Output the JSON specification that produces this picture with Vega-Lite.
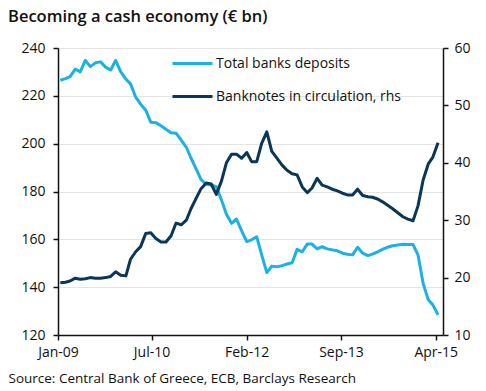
{
  "$schema": "https://vega.github.io/schema/vega-lite/v6.json",
  "width": 385,
  "height": 287,
  "autosize": "none",
  "padding": {"left": 58, "top": 48, "right": 43, "bottom": 56},
  "background": "white",
  "title": {"text": "Becoming a cash economy (€ bn)", "anchor": "start", "frame": "group", "dx": -50, "fontSize": 16.5, "fontWeight": 600, "font": "Open Sans", "color": "#111111", "offset": 16},
  "config": {"view": {"stroke": null}, "font": "Open Sans"},
  "data": {"values": [
    {"date": "2009-01-15", "deposits": 226.5, "banknotes": 19.1},
    {"date": "2009-02-15", "deposits": 227.2, "banknotes": 19.2},
    {"date": "2009-03-15", "deposits": 228.0, "banknotes": 19.4},
    {"date": "2009-04-15", "deposits": 231.2, "banknotes": 19.9},
    {"date": "2009-05-15", "deposits": 230.0, "banknotes": 19.7},
    {"date": "2009-06-15", "deposits": 234.8, "banknotes": 19.8},
    {"date": "2009-07-15", "deposits": 232.2, "banknotes": 20.0},
    {"date": "2009-08-15", "deposits": 233.8, "banknotes": 19.9},
    {"date": "2009-09-15", "deposits": 234.2, "banknotes": 19.9},
    {"date": "2009-10-15", "deposits": 232.0, "banknotes": 20.0},
    {"date": "2009-11-15", "deposits": 230.8, "banknotes": 20.2},
    {"date": "2009-12-15", "deposits": 234.8, "banknotes": 21.0},
    {"date": "2010-01-15", "deposits": 230.0, "banknotes": 20.4},
    {"date": "2010-02-15", "deposits": 227.0, "banknotes": 20.3},
    {"date": "2010-03-15", "deposits": 225.0, "banknotes": 23.2},
    {"date": "2010-04-15", "deposits": 219.5, "banknotes": 24.5},
    {"date": "2010-05-15", "deposits": 216.5, "banknotes": 25.4},
    {"date": "2010-06-15", "deposits": 214.0, "banknotes": 27.7},
    {"date": "2010-07-15", "deposits": 209.0, "banknotes": 27.8},
    {"date": "2010-08-15", "deposits": 208.8, "banknotes": 26.8},
    {"date": "2010-09-15", "deposits": 207.5, "banknotes": 26.2},
    {"date": "2010-10-15", "deposits": 206.0, "banknotes": 26.2},
    {"date": "2010-11-15", "deposits": 204.6, "banknotes": 27.3},
    {"date": "2010-12-15", "deposits": 204.4, "banknotes": 29.5},
    {"date": "2011-01-15", "deposits": 201.5, "banknotes": 29.2},
    {"date": "2011-02-15", "deposits": 198.5, "banknotes": 30.0},
    {"date": "2011-03-15", "deposits": 194.0, "banknotes": 32.0},
    {"date": "2011-04-15", "deposits": 189.5, "banknotes": 33.8},
    {"date": "2011-05-15", "deposits": 185.0, "banknotes": 35.5},
    {"date": "2011-06-15", "deposits": 183.0, "banknotes": 36.5},
    {"date": "2011-07-15", "deposits": 182.7, "banknotes": 36.3},
    {"date": "2011-08-15", "deposits": 182.0, "banknotes": 34.5},
    {"date": "2011-09-15", "deposits": 176.5, "banknotes": 36.8},
    {"date": "2011-10-15", "deposits": 170.5, "banknotes": 40.0},
    {"date": "2011-11-15", "deposits": 166.7, "banknotes": 41.5},
    {"date": "2011-12-15", "deposits": 168.5, "banknotes": 41.5},
    {"date": "2012-01-15", "deposits": 163.5, "banknotes": 40.8},
    {"date": "2012-02-15", "deposits": 159.0, "banknotes": 41.8},
    {"date": "2012-03-15", "deposits": 159.8, "banknotes": 40.2},
    {"date": "2012-04-15", "deposits": 161.1, "banknotes": 40.2},
    {"date": "2012-05-15", "deposits": 153.5, "banknotes": 43.4},
    {"date": "2012-06-15", "deposits": 146.1, "banknotes": 45.4},
    {"date": "2012-07-15", "deposits": 148.8, "banknotes": 42.0},
    {"date": "2012-08-15", "deposits": 148.5, "banknotes": 40.8},
    {"date": "2012-09-15", "deposits": 149.0, "banknotes": 39.6},
    {"date": "2012-10-15", "deposits": 149.7, "banknotes": 38.7},
    {"date": "2012-11-15", "deposits": 150.2, "banknotes": 38.1},
    {"date": "2012-12-15", "deposits": 155.8, "banknotes": 37.9},
    {"date": "2013-01-15", "deposits": 154.8, "banknotes": 35.8},
    {"date": "2013-02-15", "deposits": 158.1, "banknotes": 34.8},
    {"date": "2013-03-15", "deposits": 158.0, "banknotes": 35.6},
    {"date": "2013-04-15", "deposits": 156.0, "banknotes": 37.3},
    {"date": "2013-05-15", "deposits": 156.9, "banknotes": 36.1},
    {"date": "2013-06-15", "deposits": 156.0, "banknotes": 35.8},
    {"date": "2013-07-15", "deposits": 155.6, "banknotes": 35.4},
    {"date": "2013-08-15", "deposits": 155.2, "banknotes": 35.1},
    {"date": "2013-09-15", "deposits": 154.2, "banknotes": 34.7},
    {"date": "2013-10-15", "deposits": 153.8, "banknotes": 34.4},
    {"date": "2013-11-15", "deposits": 153.5, "banknotes": 34.4},
    {"date": "2013-12-15", "deposits": 156.7, "banknotes": 35.4},
    {"date": "2014-01-15", "deposits": 154.2, "banknotes": 34.3},
    {"date": "2014-02-15", "deposits": 153.2, "banknotes": 34.1},
    {"date": "2014-03-15", "deposits": 153.8, "banknotes": 34.0},
    {"date": "2014-04-15", "deposits": 154.8, "banknotes": 33.7},
    {"date": "2014-05-15", "deposits": 155.8, "banknotes": 33.2},
    {"date": "2014-06-15", "deposits": 156.7, "banknotes": 32.6},
    {"date": "2014-07-15", "deposits": 157.3, "banknotes": 32.0},
    {"date": "2014-08-15", "deposits": 157.6, "banknotes": 31.3},
    {"date": "2014-09-15", "deposits": 157.9, "banknotes": 30.6},
    {"date": "2014-10-15", "deposits": 157.8, "banknotes": 30.2},
    {"date": "2014-11-15", "deposits": 157.8, "banknotes": 29.9},
    {"date": "2014-12-15", "deposits": 153.5, "banknotes": 32.5},
    {"date": "2015-01-15", "deposits": 141.6, "banknotes": 37.0},
    {"date": "2015-02-15", "deposits": 134.7, "banknotes": 39.8},
    {"date": "2015-03-15", "deposits": 132.6, "banknotes": 41.0},
    {"date": "2015-04-15", "deposits": 128.4, "banknotes": 43.5}
  ]},
  "encoding": {
    "x": {
      "field": "date", "type": "temporal",
      "scale": {"type": "utc", "domain": [{"year": 2009, "month": 1, "date": 1, "utc": true}, {"year": 2015, "month": 5, "date": 15, "utc": true}]},
      "axis": {
        "values": [
          {"year": 2009, "month": 1, "date": 1, "utc": true},
          {"year": 2010, "month": 7, "date": 20, "utc": true},
          {"year": 2012, "month": 2, "date": 14, "utc": true},
          {"year": 2013, "month": 9, "date": 6, "utc": true},
          {"year": 2015, "month": 4, "date": 1, "utc": true}
        ],
        "labelExpr": "utcFormat(datum.value, '%b-%y')",
        "grid": false,
        "domainColor": "#111111", "domainWidth": 1.5,
        "tickColor": "#111111", "tickWidth": 1.5, "tickSize": 5,
        "labelFontSize": 14, "labelColor": "#111111", "labelPadding": 5, "labelFlush": false,
        "title": "Source: Central Bank of Greece, ECB, Barclays Research",
        "titleAnchor": "start", "titleAlign": "left", "titleX": -50, "titleY": 47,
        "titleBaseline": "alphabetic",
        "titleFontSize": 13.5, "titleFontWeight": "normal", "titleColor": "#111111"
      }
    }
  },
  "layer": [
    {
      "mark": {"type": "line", "strokeWidth": 3, "strokeJoin": "round"},
      "encoding": {
        "y": {
          "field": "deposits", "type": "quantitative",
          "scale": {"domain": [120, 240], "nice": false, "zero": false},
          "axis": {
            "values": [120, 140, 160, 180, 200, 220, 240],
            "grid": true, "gridColor": "#e4e4e4", "gridWidth": 1,
            "domainColor": "#111111", "domainWidth": 1.5,
            "tickColor": "#111111", "tickWidth": 1.5, "tickSize": 5,
            "labelFontSize": 14, "labelColor": "#111111", "labelPadding": 8,
            "title": null
          }
        },
        "color": {
          "datum": "Total banks deposits", "type": "nominal",
          "scale": {"domain": ["Total banks deposits", "Banknotes in circulation, rhs"], "range": ["#1cb1e3", "#0a3657"]},
          "legend": {
            "orient": "none", "legendX": 113, "legendY": -6, "title": null,
            "symbolType": "stroke", "symbolSize": 1600, "symbolStrokeWidth": 3,
            "labelFontSize": 14, "labelColor": "#111111", "labelOffset": 2, "labelLimit": 400,
            "rowPadding": 4
          }
        }
      }
    },
    {
      "mark": {"type": "line", "strokeWidth": 3, "strokeJoin": "round"},
      "encoding": {
        "y": {
          "field": "banknotes", "type": "quantitative",
          "scale": {"domain": [10, 60], "nice": false, "zero": false},
          "axis": {
            "orient": "right",
            "values": [10, 20, 30, 40, 50, 60],
            "grid": false,
            "domainColor": "#111111", "domainWidth": 1.5,
            "tickColor": "#111111", "tickWidth": 1.5, "tickSize": 5,
            "labelFontSize": 14, "labelColor": "#111111", "labelPadding": 6,
            "title": null
          }
        },
        "color": {"datum": "Banknotes in circulation, rhs", "type": "nominal"}
      }
    }
  ],
  "resolve": {"scale": {"y": "independent"}}
}
